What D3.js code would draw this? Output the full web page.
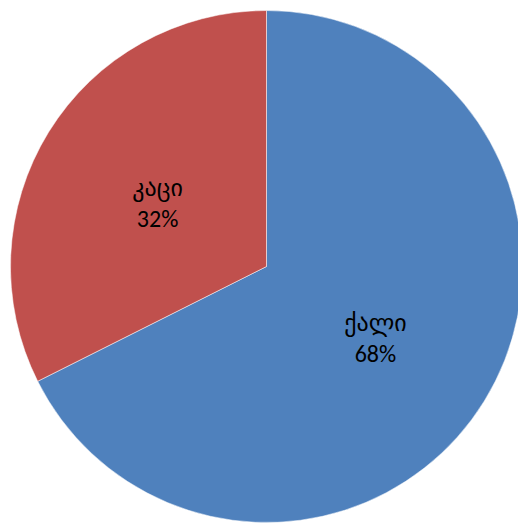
<!DOCTYPE html>
<html>
<head>
<meta charset="utf-8">
<script src="https://cdn.jsdelivr.net/npm/d3@7"></script>
<style>
html,body{margin:0;padding:0;background:#fff;}
svg{display:block;}
</style>
</head>
<body>
<svg id="chart" width="518" height="523"></svg>
<script>
const categories = ["ქალი", "კაცი"];
const values = [67.6, 32.4];
const colors = ["#4F81BD", "#C0504D"];

const svg = d3.select("#chart");
const cx = 266.5, cy = 266.5, r = 256;
const g = svg.append("g").attr("transform", `translate(${cx},${cy})`);

const data = categories.map((c, i) => ({ cat: c, value: values[i], color: colors[i] }));
const total = d3.sum(values);
const pie = d3.pie().value(d => d.value).sort(null).startAngle(0).endAngle(2 * Math.PI);
const arc = d3.arc().innerRadius(0).outerRadius(r);
const labelArc = d3.arc().innerRadius(r * 0.5).outerRadius(r * 0.5);

const arcs = pie(data);
g.selectAll("path").data(arcs).join("path")
  .attr("d", arc)
  .attr("fill", d => d.data.color)
  .attr("stroke", "#fff")
  .attr("stroke-width", 0.5);

const fmt = v => Math.round(v / total * 100) + "%";
const labels = g.selectAll("text.lbl").data(arcs).join("text")
  .attr("class", "lbl")
  .attr("transform", d => { const [x, y] = labelArc.centroid(d); return `translate(${x},${y})`; })
  .attr("text-anchor", "middle")
  .style("font-family", "Carlito, Calibri, Lato, 'DejaVu Sans', sans-serif")
  .style("font-size", "24px")
  .attr("fill", "#000");
labels.append("tspan").attr("x", 0).attr("y", -3).text(d => d.data.cat);
labels.append("tspan").attr("x", 0).attr("y", 28).text(d => fmt(d.data.value));
</script>
</body>
</html>
